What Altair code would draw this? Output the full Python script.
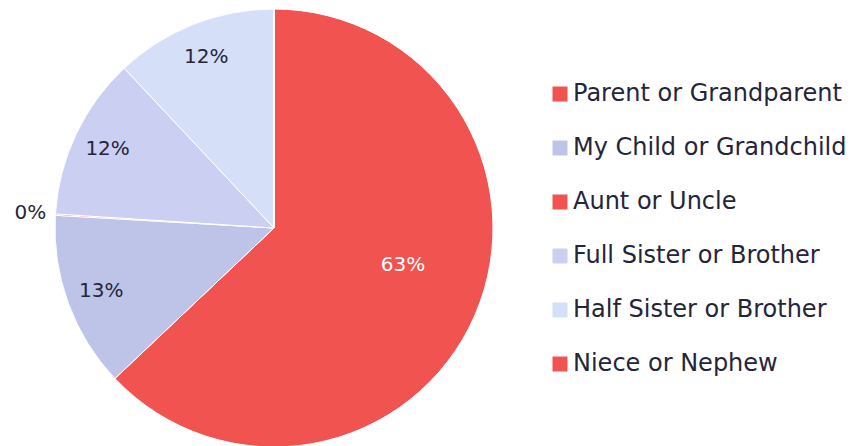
import altair as alt
import pandas as pd

categories = ["Parent or Grandparent", "My Child or Grandchild", "Aunt or Uncle",
              "Full Sister or Brother", "Half Sister or Brother", "Niece or Nephew"]
values = [63.0, 13.0, 0.1, 12.0, 12.0, 0.0]
colors = ["#F15350", "#BEC3E8", "#F15350", "#CBCFF1", "#D6DFF8", "#F15350"]

df = pd.DataFrame({"category": categories, "value": values, "idx": list(range(len(categories)))})

FONT = "DejaVu Sans"
TEXT = "#25253a"
CX, CY = 266, 220

base = alt.Chart(df).transform_stack(
    stack="value", groupby=[], as_=["v0", "v1"], sort=[alt.SortField("idx", order="ascending")]
).transform_calculate(
    mid="(datum.v0 + datum.v1) / 2",
    label="format(datum.value, '.0f') + '%'",
)

pie = base.mark_arc(radius=219, stroke="white", strokeWidth=1).encode(
    x=alt.value(CX), y=alt.value(CY),
    theta=alt.Theta("v0:Q", scale=alt.Scale(zero=True)),
    theta2="v1:Q",
    color=alt.Color("category:N", sort=categories,
                    scale=alt.Scale(domain=categories, range=colors),
                    legend=alt.Legend(title=None, orient="none", legendX=540, legendY=74,
                                      symbolType="square", symbolSize=225, symbolStrokeWidth=0,
                                      labelFont=FONT, labelFontSize=24, labelColor=TEXT,
                                      labelOffset=1, rowPadding=30, labelLimit=400)),
)

big = base.transform_filter("datum.value > 50").mark_text(
    radius=134, dx=6, dy=-16, font=FONT, fontSize=20, color="white").encode(
    x=alt.value(CX), y=alt.value(CY), theta="mid:Q", text="label:N")
mid = base.transform_filter("datum.value >= 1 && datum.value <= 50").mark_text(
    radius=184, font=FONT, fontSize=20, color=TEXT).encode(
    x=alt.value(CX), y=alt.value(CY), theta="mid:Q", text="label:N")
small = base.transform_filter("datum.value > 0 && datum.value < 1").mark_text(
    radius=244, font=FONT, fontSize=20, color=TEXT).encode(
    x=alt.value(CX), y=alt.value(CY), theta="mid:Q", text="label:N")

chart = alt.layer(pie, big, mid, small).properties(
    width=841, height=440, padding=0, autosize=alt.AutoSizeParams(type="none")
).configure_view(stroke=None)

chart.save("out.html", embed_options={"renderer": "svg", "actions": False})
